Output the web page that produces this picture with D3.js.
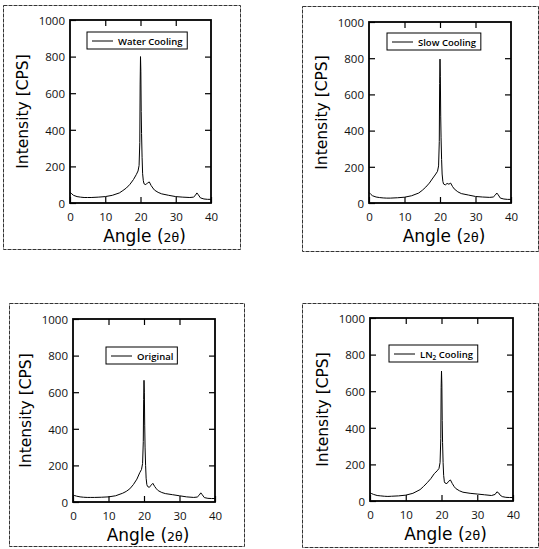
<!DOCTYPE html>
<html>
<head>
<meta charset="utf-8">
<script src="https://cdn.jsdelivr.net/npm/d3@7"></script>
<style>
  html, body { margin: 0; padding: 0; background: #fff; }
  svg { display: block; }
  .tick text { font-family: "Open Sans", sans-serif; font-size: 11.5px; fill: #111; }
</style>
</head>
<body>
<svg id="chart" width="539" height="549"></svg>
<script>
// Diffraction angle (2θ) sampling shared by all four scans
const angle = [0, 0.5, 1, 2, 3, 4, 5, 6, 8, 10, 12, 14, 15, 16, 17, 18, 18.8, 19.3, 19.6, 19.8, 19.9, 20.0, 20.1, 20.2, 20.3, 20.45, 20.6, 20.8, 21.0, 21.5, 22.0, 22.5, 23.0, 23.5, 24, 25, 26, 28, 30, 32, 34, 35, 35.5, 36, 36.4, 37, 38, 39, 40];

// Intensity [CPS] for each treatment
const waterCooling = [60, 50, 42, 35, 32, 30, 30, 30, 32, 35, 42, 55, 68, 82, 102, 128, 155, 175, 205, 330, 650, 800, 720, 500, 380, 250, 160, 122, 105, 100, 110, 115, 96, 82, 70, 58, 50, 42, 35, 32, 30, 32, 40, 55, 45, 28, 22, 20, 20];
const slowCooling  = [58, 48, 40, 33, 30, 28, 27, 27, 29, 32, 40, 55, 70, 88, 110, 138, 160, 175, 205, 340, 660, 795, 700, 480, 360, 240, 160, 120, 105, 100, 108, 104, 110, 92, 78, 62, 52, 44, 36, 33, 31, 33, 42, 55, 45, 27, 22, 20, 20];
const original     = [38, 35, 32, 28, 26, 25, 25, 25, 26, 28, 34, 48, 58, 72, 95, 125, 160, 178, 210, 330, 560, 665, 600, 420, 300, 200, 130, 95, 85, 80, 92, 102, 85, 72, 62, 52, 46, 40, 34, 28, 25, 27, 36, 50, 40, 24, 20, 19, 19];
const ln2Cooling   = [45, 40, 36, 30, 28, 26, 25, 26, 28, 32, 42, 62, 80, 100, 122, 150, 165, 178, 210, 340, 620, 710, 640, 440, 320, 210, 140, 105, 98, 95, 108, 115, 96, 80, 68, 56, 48, 42, 38, 34, 30, 36, 50, 44, 32, 24, 20, 19, 19];

const xTicks = [0, 10, 20, 30, 40];
const yTicks = [0, 200, 400, 600, 800, 1000];

// Panel layout: outer frame and inner plot box
const panels = [
  { label: "Water Cooling", values: waterCooling,
    frame: [3, 5, 240, 249], plot: [70, 20, 211, 203], legend: [87, 32] },
  { label: "Slow Cooling", values: slowCooling,
    frame: [302, 6, 538, 251], plot: [369, 22, 511, 203], legend: [387, 33] },
  { label: "Original", values: original,
    frame: [9, 303, 244, 546], plot: [73, 319, 215, 502], legend: [106, 347] },
  { label: "LN2 Cooling", values: ln2Cooling,
    frame: [302, 303, 538, 547], plot: [370, 318, 513, 501], legend: [389, 345] }
];

const svg = d3.select("#chart");
const fmt = d3.format("d");

panels.forEach(p => {
  const [fx0, fy0, fx1, fy1] = p.frame;
  const [px0, py0, px1, py1] = p.plot;

  // outer frame
  svg.append("rect")
    .attr("x", fx0 + 0.5).attr("y", fy0 + 0.5)
    .attr("width", fx1 - fx0).attr("height", fy1 - fy0)
    .attr("fill", "none").attr("stroke", "#333").attr("stroke-width", 1)
    .attr("stroke-dasharray", "4,1");

  const x = d3.scaleLinear().domain([0, 40]).range([px0, px1]);
  const y = d3.scaleLinear().domain([0, 1000]).range([py1, py0]);

  const g = svg.append("g");

  // bottom & left axes with labels, ticks pointing inward
  g.append("g").attr("transform", `translate(0,${py1})`)
    .call(d3.axisBottom(x).tickValues(xTicks).tickFormat(fmt).tickSizeInner(-6).tickSizeOuter(0).tickPadding(10))
    .call(a => a.select(".domain").remove());
  g.append("g").attr("transform", `translate(${px0},0)`)
    .call(d3.axisLeft(y).tickValues(yTicks).tickFormat(fmt).tickSizeInner(-6).tickSizeOuter(0).tickPadding(5))
    .call(a => a.select(".domain").remove())
    .call(a => a.selectAll(".tick text").attr("dy", "0.38em"));
  // top & right mirror ticks
  g.append("g").attr("transform", `translate(0,${py0})`)
    .call(d3.axisTop(x).tickValues(xTicks.slice(1, -1)).tickSizeInner(-6).tickSizeOuter(0).tickFormat(""))
    .call(a => a.select(".domain").remove());
  g.append("g").attr("transform", `translate(${px1},0)`)
    .call(d3.axisRight(y).tickValues(yTicks.slice(1, -1)).tickSizeInner(-6).tickSizeOuter(0).tickFormat(""))
    .call(a => a.select(".domain").remove());
  g.selectAll(".tick line").attr("stroke", "#000").attr("stroke-width", 1.2);

  // data curve
  const data = angle.map((a, i) => [a, p.values[i]]);
  g.append("path").datum(data)
    .attr("fill", "none").attr("stroke", "#000").attr("stroke-width", 1)
    .attr("stroke-linejoin", "round")
    .attr("d", d3.line().x(d => x(d[0])).y(d => y(d[1])));

  // plot box
  g.append("rect")
    .attr("x", px0).attr("y", py0)
    .attr("width", px1 - px0).attr("height", py1 - py0)
    .attr("fill", "none").attr("stroke", "#000").attr("stroke-width", 1.8);

  // axis titles
  const cy = (py0 + py1) / 2;
  g.append("text")
    .attr("transform", `translate(${px0 - 42},${cy}) rotate(-90)`)
    .attr("text-anchor", "middle")
    .style("font-family", "'DejaVu Sans', sans-serif").style("font-size", "15.5px")
    .text("Intensity [CPS]");
  const xt = g.append("text")
    .attr("x", (px0 + px1) / 2 + 4).attr("y", py1 + 39)
    .attr("text-anchor", "middle")
    .style("font-family", "'DejaVu Sans', sans-serif").style("font-size", "17px");
  xt.append("tspan").text("Angle (");
  xt.append("tspan").style("font-size", "12.5px").text("2θ");
  xt.append("tspan").text(")");

  // legend
  const [lx, ly] = p.legend;
  const lg = g.append("g").attr("transform", `translate(${lx},${ly})`);
  const box = lg.append("rect").attr("height", 17).attr("fill", "#fff")
    .attr("stroke", "#000").attr("stroke-width", 1);
  lg.append("line").attr("x1", 5).attr("x2", 26).attr("y1", 9).attr("y2", 9)
    .attr("stroke", "#000").attr("stroke-width", 1);
  const lt = lg.append("text").attr("x", 31).attr("y", 12.5)
    .style("font-family", "'Open Sans', sans-serif").style("font-size", "9.5px")
    .style("font-weight", "600");
  if (p.label.startsWith("LN2")) {
    lt.append("tspan").text("LN");
    lt.append("tspan").attr("dy", 2).style("font-size", "6.5px").text("2");
    lt.append("tspan").attr("dy", -2).text(" Cooling");
  } else {
    lt.text(p.label);
  }
  const w = lt.node().getBBox().width;
  box.attr("width", 31 + w + 4);
});
</script>
</body>
</html>
